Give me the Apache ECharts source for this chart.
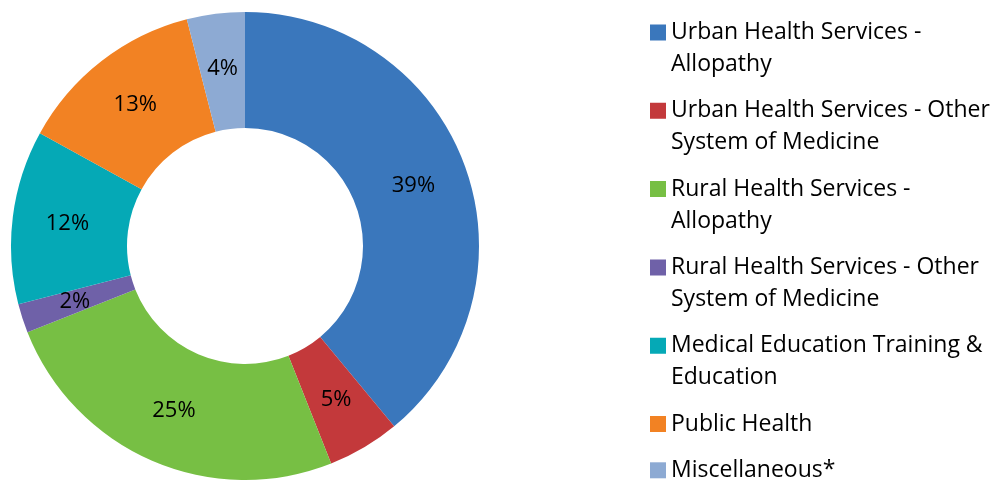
<!DOCTYPE html>
<html>
<head>
<meta charset="utf-8">
<script src="https://cdn.jsdelivr.net/npm/echarts@6/dist/echarts.min.js"></script>
<style>
  html, body { margin: 0; padding: 0; background: #ffffff; }
  #chart { width: 997px; height: 480px; }
</style>
</head>
<body>
<div id="chart"></div>
<script>
// Budget share by head of expenditure (percent)
const categories = [
  'Urban Health Services - Allopathy',
  'Urban Health Services - Other System of Medicine',
  'Rural Health Services - Allopathy',
  'Rural Health Services - Other System of Medicine',
  'Medical Education Training & Education',
  'Public Health',
  'Miscellaneous*'
];
const shares = [39, 5, 25, 2, 12, 13, 4];
// Wrapped legend text
const legendText = [
  'Urban Health Services -\nAllopathy',
  'Urban Health Services - Other\nSystem of Medicine',
  'Rural Health Services -\nAllopathy',
  'Rural Health Services - Other\nSystem of Medicine',
  'Medical Education Training &\nEducation',
  'Public Health',
  'Miscellaneous*'
];
const colors = ['#3A77BC', '#C3393B', '#77BF44', '#6F61A8', '#05A9B6', '#F28223', '#8DAAD3'];

const FONT = '"Open Sans", Lato, sans-serif';
const LINE_H = 32;
const ICON = 16;

// One legend block per entry so each can sit at its own height,
// with the swatch lined up against the first text line.
const legends = [];
let legendTop = 16.5;
categories.forEach((name, i) => {
  const lines = legendText[i].split('\n').length;
  const h = ICON + (lines - 1) * LINE_H;
  const icon = lines > 1
    ? 'path://M0,0h16v16h-16z M0,' + h + 'h0.01'
    : 'rect';
  legends.push({
    orient: 'vertical',
    left: 650,
    top: legendTop,
    padding: 0,
    selectedMode: false,
    itemWidth: ICON,
    itemHeight: h,
    icon: icon,
    itemStyle: { borderWidth: 0 },
    data: [name],
    formatter: () => legendText[i],
    textStyle: {
      fontFamily: FONT,
      fontSize: 23,
      lineHeight: LINE_H,
      color: '#000000'
    }
  });
  legendTop += lines * LINE_H + 14.3;
});

const chart = echarts.init(document.getElementById('chart'), null, { renderer: 'canvas' });
chart.setOption({
  animation: false,
  color: colors,
  legend: legends,
  series: [{
    type: 'pie',
    center: [245, 246],
    radius: [118, 234],
    startAngle: 90,
    clockwise: true,
    avoidLabelOverlap: false,
    emphasis: { disabled: true },
    itemStyle: { borderWidth: 0 },
    label: {
      show: true,
      position: 'inside',
      formatter: '{c}%',
      fontFamily: FONT,
      fontSize: 22,
      color: '#000000'
    },
    labelLine: { show: false },
    data: categories.map((name, i) => ({ name: name, value: shares[i] }))
  }]
});
</script>
</body>
</html>
